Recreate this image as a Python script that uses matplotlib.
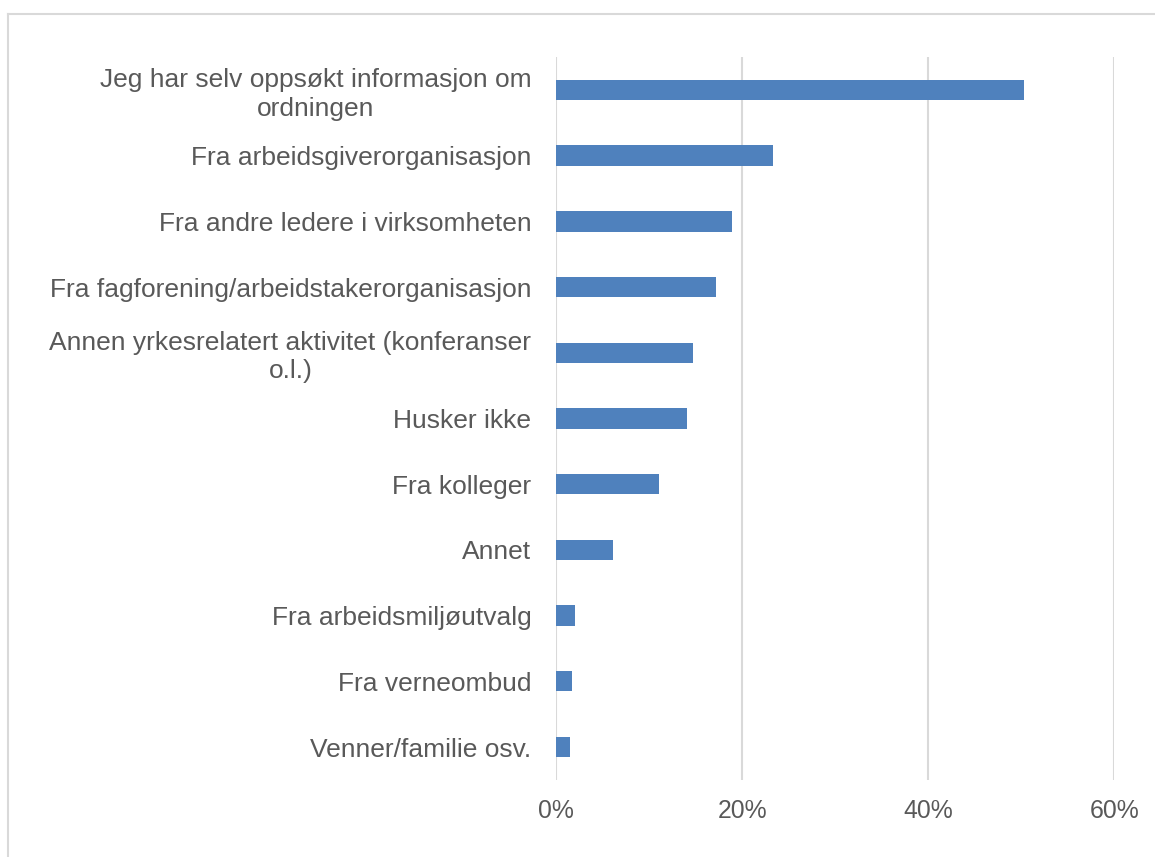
import matplotlib.pyplot as plt
from matplotlib.lines import Line2D
from matplotlib.ticker import FuncFormatter

# categories from top to bottom
categories = [
    'Jeg har selv oppsøkt informasjon om\nordningen',
    'Fra arbeidsgiverorganisasjon',
    'Fra andre ledere i virksomheten',
    'Fra fagforening/arbeidstakerorganisasjon',
    'Annen yrkesrelatert aktivitet (konferanser\no.l.)',
    'Husker ikke',
    'Fra kolleger',
    'Annet',
    'Fra arbeidsmiljøutvalg',
    'Fra verneombud',
    'Venner/familie osv.',
]
values = [50.3, 23.3, 18.9, 17.2, 14.7, 14.0, 11.0, 6.1, 2.0, 1.7, 1.5]
xticks = [0, 20, 40, 60]

plt.rcParams['font.family'] = ['Liberation Sans', 'DejaVu Sans']
textcol = '#595959'
gridcol = '#d9d9d9'

fig = plt.figure(figsize=(11.55, 8.57), dpi=100)
ax = fig.add_axes([0.4817, 0.0900, 0.9648 - 0.4817, 0.9334 - 0.0900])

ypos = list(range(len(categories)))
ax.barh(ypos, values, height=0.31, color='#4f81bd', zorder=3)
ax.set_ylim(len(categories) - 0.5, -0.5)
ax.set_xlim(0, 60)
ax.set_xticks(xticks)
ax.xaxis.set_major_formatter(FuncFormatter(lambda v, p: f'{v:.0f}%'))
ax.set_yticks(ypos)
ax.set_yticklabels(categories, multialignment='center', linespacing=1.22)

ax.grid(axis='x', color=gridcol, linewidth=1.5, zorder=0)
for s in ax.spines.values():
    s.set_visible(False)
ax.tick_params(axis='both', length=0, colors=textcol)
ax.tick_params(axis='x', pad=14, labelsize=17.8)
ax.tick_params(axis='y', pad=18, labelsize=19)

# outer chart frame (top and left edges visible)
W, H = 1155, 857
fig.add_artist(Line2D([8 / W, 8 / W], [0, 1 - 14 / H], transform=fig.transFigure,
                      color=gridcol, linewidth=1.5))
fig.add_artist(Line2D([8 / W, 1], [1 - 14 / H, 1 - 14 / H], transform=fig.transFigure,
                      color=gridcol, linewidth=1.5))

fig.savefig('out.png', dpi=100)
